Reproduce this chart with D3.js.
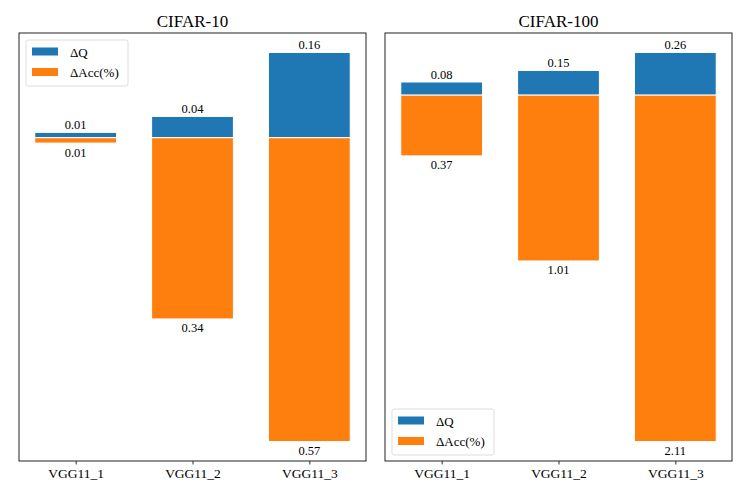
<!DOCTYPE html>
<html>
<head>
<meta charset="utf-8">
<script src="https://cdn.jsdelivr.net/npm/d3@7"></script>
<style>
  body { margin: 0; background: #fff; }
  text { font-family: "Liberation Serif", "Times New Roman", serif; fill: #000; }
</style>
</head>
<body>
<div id="chart"></div>
<script>
// data
var models = ["VGG11_1", "VGG11_2", "VGG11_3"];
var titles = ["CIFAR-10", "CIFAR-100"];
var dq10 = [0.01, 0.04, 0.16];
var dacc10 = [0.01, 0.34, 0.57];
var dq100 = [0.08, 0.15, 0.26];
var dacc100 = [0.37, 1.01, 2.11];
var seriesNames = ["\u0394Q", "\u0394Acc(%)"];
var colors = ["#1f77b4", "#ff7f0e"];

var width = 747, height = 498;
var svg = d3.select("#chart").append("svg").attr("width", width).attr("height", height);

var panels = [
    {title: titles[0], dq: dq10, dacc: dacc10, left: 19, right: 366, legend: "top"},
    {title: titles[1], dq: dq100, dacc: dacc100, left: 385, right: 732, legend: "bottom"}
];
var plotTop = 33, plotBottom = 461;

panels.forEach(function(p) {
    var w = p.right - p.left;
    var h = plotBottom - plotTop;
    var g = svg.append("g").attr("transform", "translate(" + p.left + "," + plotTop + ")");

    // x scale like matplotlib: bars width 0.7, 5% margins
    var bw = 0.7;
    var lo = -bw / 2, hi = models.length - 1 + bw / 2;
    var pad = (hi - lo) * 0.05;
    var x = d3.scaleLinear().domain([lo - pad, hi + pad]).range([0, w]);

    // y scale: positive dq up, negative dacc down, 5% margins
    var ymax = d3.max(p.dq), ymin = -d3.max(p.dacc);
    var ypad = (ymax - ymin) * 0.05;
    var y = d3.scaleLinear().domain([ymin - ypad, ymax + ypad]).range([h, 0]);

    // blue bars
    g.selectAll(".dq").data(p.dq).enter().append("rect")
        .attr("x", function(d, i) { return x(i - bw / 2); })
        .attr("width", x(bw) - x(0))
        .attr("y", function(d) { return y(d); })
        .attr("height", function(d) { return y(0) - y(d); })
        .attr("fill", colors[0])
        .attr("stroke", "#fff").attr("stroke-width", 1);

    // orange bars
    g.selectAll(".dacc").data(p.dacc).enter().append("rect")
        .attr("x", function(d, i) { return x(i - bw / 2); })
        .attr("width", x(bw) - x(0))
        .attr("y", y(0))
        .attr("height", function(d) { return y(-d) - y(0); })
        .attr("fill", colors[1])
        .attr("stroke", "#fff").attr("stroke-width", 1);

    // value labels
    g.selectAll(".lq").data(p.dq).enter().append("text")
        .attr("x", function(d, i) { return x(i); })
        .attr("y", function(d) { return y(d) - 3.5; })
        .attr("text-anchor", "middle")
        .style("font-size", "12.5px")
        .text(function(d) { return d.toFixed(2); });
    g.selectAll(".la").data(p.dacc).enter().append("text")
        .attr("x", function(d, i) { return x(i); })
        .attr("y", function(d) { return y(-d) + 13.5; })
        .attr("text-anchor", "middle")
        .style("font-size", "12.5px")
        .text(function(d) { return d.toFixed(2); });

    // x axis
    var xaxis = d3.axisBottom(x).tickValues(d3.range(models.length))
        .tickFormat(function(d) { return models[d]; })
        .tickSize(3.5).tickPadding(4);
    var ax = g.append("g").attr("transform", "translate(0," + h + ")").call(xaxis);
    ax.select(".domain").remove();
    ax.selectAll("line").attr("stroke", "#000").attr("stroke-width", 0.8);
    ax.selectAll("text")
        .style("font-family", "'Liberation Serif', serif")
        .style("font-size", "13.5px").attr("fill", "#000");

    // frame
    g.append("rect").attr("width", w).attr("height", h)
        .attr("fill", "none").attr("stroke", "#222").attr("stroke-width", 1);

    // title
    g.append("text").attr("x", w / 2).attr("y", -6.5)
        .attr("text-anchor", "middle").style("font-size", "17px").text(p.title);

    // legend
    var lx = 7, ly = p.legend === "top" ? 7 : h - 52;
    var lg = g.append("g").attr("transform", "translate(" + lx + "," + ly + ")");
    lg.append("rect").attr("width", 102).attr("height", 46).attr("rx", 2)
        .attr("fill", "#fff").attr("stroke", "#ddd").attr("stroke-width", 1);
    seriesNames.forEach(function(s, i) {
        lg.append("rect").attr("x", 6).attr("y", 7.5 + i * 20.5)
            .attr("width", 26).attr("height", 8).attr("fill", colors[i]);
        lg.append("text").attr("x", 44).attr("y", 16.5 + i * 20.5)
            .style("font-size", "13px").text(s);
    });
});
</script>
</body>
</html>
